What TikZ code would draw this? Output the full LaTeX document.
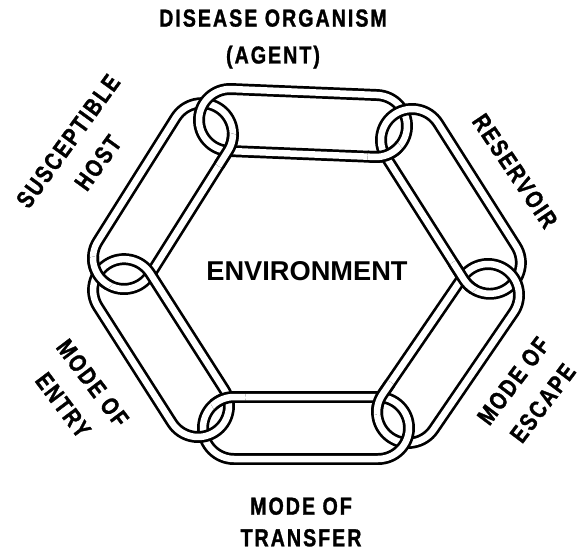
\documentclass[tikz,border=0pt]{standalone}
\usepackage{fontspec}
\newfontfamily\lblfont{Liberation Sans}[FakeStretch=0.8,LetterSpace=8,FakeBold=1.2]
\newfontfamily\envfont{Liberation Sans}
\usetikzlibrary{calc}

\def\linkr{0.62cm}
% one link of the chain, from ring centre #1 to ring centre #2
\newcommand{\chainlink}[2]{%
  \draw[link] let \p1=($(#2)-(#1)$), \n1={atan2(\y1,\x1)}, \n2={veclen(\x1,\y1)} in
    ($(#1)+(\n1-90:\linkr)$) -- ++(\n1:\n2) arc[start angle=\n1-90, delta angle=180, radius=\linkr]
    -- ++(\n1+180:\n2) arc[start angle=\n1+90, delta angle=180, radius=\linkr] -- cycle;}
% put link #1--#2 back on top where the rings at #3 and #4 cross (#5 = -90 inner, 90 outer)
\newcommand{\linkover}[5]{%
  \begin{scope}
    \path ($(#3)!0.5!(#4)$) coordinate (mid);
    \path let \p1=($(#4)-(#3)$), \n1={sqrt(\linkr*\linkr-(veclen(\x1,\y1)/2)^2)} in
      ($(mid)!\n1!#5:(#4)$) coordinate (cross);
    \clip (cross) circle (0.36cm);
    \chainlink{#1}{#2}
  \end{scope}}

\begin{document}
\begin{tikzpicture}[x=0.02cm,y=0.02cm,
    link/.style={line width=1.55pt,double=white,double distance=3.7pt,line join=round},
    lbl/.style={font=\lblfont\bfseries\fontsize{14}{21}\selectfont,align=center,inner sep=0pt}]
  \useasboundingbox (0,0) rectangle (587,552);
  % ring centres
  \coordinate (H1) at (124,294); \coordinate (H2) at (202,418);
  \coordinate (T1) at (230,432); \coordinate (T2) at (376,426);
  \coordinate (R1) at (412,412); \coordinate (R2) at (490,289);
  \coordinate (E1) at (488,257); \coordinate (E2) at (408,140);
  \coordinate (F1) at (378,124); \coordinate (F2) at (234,124);
  \coordinate (N1) at (198,146); \coordinate (N2) at (124,262);
  % the six links
  \chainlink{H1}{H2}
  \chainlink{T1}{T2}
  \chainlink{R1}{R2}
  \chainlink{E1}{E2}
  \chainlink{F1}{F2}
  \chainlink{N1}{N2}
  % interlocking
  \linkover{H1}{H2}{H2}{T1}{-90}
  \linkover{T1}{T2}{T2}{R1}{-90}
  \linkover{R1}{R2}{R2}{E1}{-90}
  \linkover{E1}{E2}{E2}{F1}{-90}
  \linkover{F1}{F2}{F2}{N1}{-90}
  \linkover{H1}{H2}{N2}{H1}{90}
  % labels
  \node[lbl] (agent) at (273,513) {DISEASE ORGANISM\\(AGENT)};
  \node[lbl,rotate=-56] (reservoir) at (515,381) {RESERVOIR};
  \node[lbl,rotate=53] (escape) at (528,160) {MODE OF\\ESCAPE};
  \node[lbl,font=\lblfont\bfseries\fontsize{14}{18}\selectfont] (transfer) at (301,30) {MODE OF\\TRANSFER};
  \node[lbl,rotate=-53] (entry) at (78,158) {MODE OF\\ENTRY};
  \node[lbl,rotate=54] (host) at (83,400) {SUSCEPTIBLE\\HOST};
  \node[font=\envfont\bfseries\fontsize{15.5}{18}\selectfont,inner sep=0pt] (env) at (307,281) {ENVIRONMENT};
\end{tikzpicture}
\end{document}
